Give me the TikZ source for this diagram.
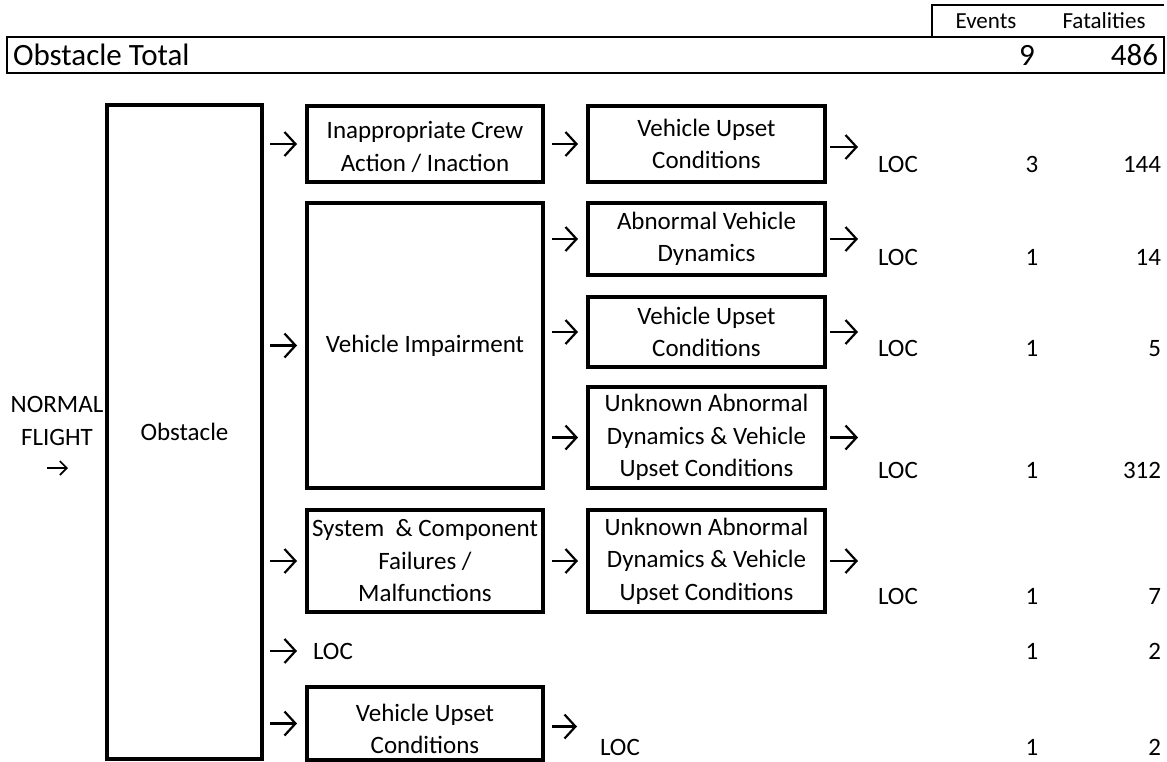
\documentclass[tikz,border=0pt]{standalone}
\usepackage{fontspec}
\setmainfont{Carlito}
\usetikzlibrary{arrows.meta}
\newcommand\bodyfs{\fontsize{25}{32.5}\selectfont}
\newcommand\headfs{\fontsize{23}{28}\selectfont}
\newcommand\totfs{\fontsize{31}{36}\selectfont}
\begin{document}
\begin{tikzpicture}[x=1pt,y=-1pt,
  box/.style={draw, line width=4.5pt, inner sep=0pt, outer sep=0pt, align=center, font=\bodyfs, minimum width=236pt, line join=miter},
  lbl/.style={inner sep=0pt, outer sep=0pt, font=\bodyfs},
  arr/.style={line width=2.2pt, -{Straight Barb[length=11pt,width=24pt]}},
  arrs/.style={line width=1.6pt, -{Straight Barb[length=7pt,width=14pt]}},
  inA/.style={arr, shorten <=8pt, shorten >=10pt},
  midA/.style={arr, shorten <=9pt, shorten >=10pt},
]
\useasboundingbox (0,0) rectangle (1167,761);
% header table
\draw[line width=2.2pt] (932,36) -- (932,5) -- (1164,5);
\node[draw, line width=2.4pt, inner sep=0pt, outer sep=0pt, minimum width=1157pt, minimum height=36pt] (total) at (585.5,55) {};
\node[lbl, font=\headfs, anchor=base] (hev) at (986,28) {Events};
\node[lbl, font=\headfs, anchor=base] (hfa) at (1104,28) {Fatalities};
\node[lbl, font=\totfs, anchor=base west] (ttl) at (13,65) {Obstacle Total};
\node[lbl, font=\totfs, anchor=base] (tev) at (1027,65) {9};
\node[lbl, font=\totfs, anchor=base east] (tfa) at (1158,65) {486};

% left label
\node[lbl, align=center] (nf) at (57,421) {NORMAL\\FLIGHT};
\coordinate (nfa1) at (47,468);
\coordinate (nfa2) at (68,468);
\draw[arrs] (nfa1) -- (nfa2);

% obstacle column
\node[box, minimum width=155pt, minimum height=654pt] (obst) at (184.5,432) {Obstacle};

% boxes
\node[box, minimum height=76pt] (ica) at (425,144) {\rule{0pt}{23pt}Inappropriate Crew\\Action / Inaction};
\node[box, minimum width=237pt, minimum height=76pt] (vu1) at (706.5,144) {Vehicle Upset\\Conditions};
\node[box, minimum height=285pt] (vi) at (425,345.5) {Vehicle Impairment};
\node[box, minimum width=237pt, minimum height=72pt] (avd) at (706.5,239) {Abnormal Vehicle\\Dynamics};
\node[box, minimum width=237pt, minimum height=70pt] (vu3) at (706.5,332) {Vehicle Upset\\Conditions};
\node[box, minimum width=237pt, minimum height=101pt] (uad4) at (706.5,437.5) {Unknown Abnormal\\Dynamics \& Vehicle\\Upset Conditions};
\node[box, minimum height=102pt] (scf) at (425,561) {System~~\& Component\\Failures /\\Malfunctions};
\node[box, minimum width=237pt, minimum height=102pt] (uad5) at (706.5,561) {Unknown Abnormal\\Dynamics \& Vehicle\\Upset Conditions};
\node[box, minimum height=73pt] (vu7) at (425,723.5) {\rule{0pt}{28pt}Vehicle Upset\\Conditions};

% LOC labels and numbers
\node[lbl, anchor=base west] (loc1) at (878,172) {LOC};
\node[lbl, anchor=base west] (loc2) at (878,265) {LOC};
\node[lbl, anchor=base west] (loc3) at (878,356) {LOC};
\node[lbl, anchor=base west] (loc4) at (878,478) {LOC};
\node[lbl, anchor=base west] (loc5) at (878,604) {LOC};
\node[lbl, anchor=base west] (loc6) at (313,659) {LOC};
\node[lbl, anchor=base west] (loc7) at (600,755) {LOC};

\node[lbl, anchor=base] (e1) at (1032,172) {3};
\node[lbl, anchor=base] (e2) at (1032,265) {1};
\node[lbl, anchor=base] (e3) at (1032,356) {1};
\node[lbl, anchor=base] (e4) at (1032,478) {1};
\node[lbl, anchor=base] (e5) at (1032,604) {1};
\node[lbl, anchor=base] (e6) at (1032,659) {1};
\node[lbl, anchor=base] (e7) at (1032,755) {1};

\node[lbl, anchor=base east] (f1) at (1161,172) {144};
\node[lbl, anchor=base east] (f2) at (1161,265) {14};
\node[lbl, anchor=base east] (f3) at (1161,356) {5};
\node[lbl, anchor=base east] (f4) at (1161,478) {312};
\node[lbl, anchor=base east] (f5) at (1161,604) {7};
\node[lbl, anchor=base east] (f6) at (1161,659) {2};
\node[lbl, anchor=base east] (f7) at (1161,755) {2};

% arrows from obstacle
\draw[inA] (obst.east |- ica.west) -- (ica.west);
\draw[inA] (obst.east |- vi.west) -- (vi.west);
\draw[inA] (obst.east |- scf.west) -- (scf.west);
\draw[arr, shorten <=8pt, shorten >=16pt] (obst.east |- loc6.west) -- (loc6.west);
\draw[inA] (obst.east |- vu7.west) -- (vu7.west);

% arrows between boxes
\draw[midA] (ica.east) -- (vu1.west);
\draw[midA] (vi.east |- avd.west) -- (avd.west);
\draw[midA] (vi.east |- vu3.west) -- (vu3.west);
\draw[midA] (vi.east |- uad4.west) -- (uad4.west);
\draw[midA] (scf.east) -- (uad5.west);

% arrows towards LOC
\draw[arr] ([xshift=5pt,yshift=-3pt]vu1.east) -- ([xshift=33pt,yshift=-3pt]vu1.east);
\foreach \b in {avd,vu3,uad4,uad5}{
  \draw[arr] ([xshift=5pt]\b.east) -- ([xshift=33pt]\b.east);
}
\draw[arr] ([xshift=9pt,yshift=-3pt]vu7.east) -- ([xshift=34pt,yshift=-3pt]vu7.east);
\end{tikzpicture}
\end{document}
